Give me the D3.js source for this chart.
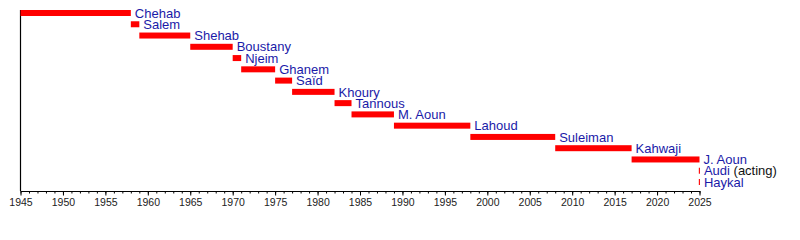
<!DOCTYPE html>
<html>
<head>
<meta charset="utf-8">
<script src="https://cdn.jsdelivr.net/npm/d3@7"></script>
<style>
  html, body { margin: 0; padding: 0; background: #fff; }
  svg { display: block; font-family: "Liberation Sans", Arial, Helvetica, sans-serif; }
</style>
</head>
<body>
<svg id="chart" width="800" height="240"></svg>
<script>
// Commanders (categories), tenure start and end years, and label suffixes
const names  = ["Chehab", "Salem", "Shehab", "Boustany", "Njeim", "Ghanem", "Saïd", "Khoury",
                "Tannous", "M. Aoun", "Lahoud", "Suleiman", "Kahwaji", "J. Aoun", "Audi", "Haykal"];
const starts = [1945, 1958, 1959, 1965, 1970, 1971, 1975, 1977, 1982, 1984, 1989, 1998, 2008, 2017, 2024.92, 2024.92];
const ends   = [1958, 1959, 1965, 1970, 1971, 1975, 1977, 1982, 1984, 1989, 1998, 2008, 2017, 2025, 2025.05, 2025.05];
const notes  = ["", "", "", "", "", "", "", "", "", "", "", "", "", "", " (acting)", ""];
const tickYears = d3.range(1945, 2026, 5);
const minorYears = d3.range(1945, 2026, 1);

const svg = d3.select("#chart");
const x = d3.scaleLinear().domain([1945, 2025]).range([20.5, 699.5]);
const y = d3.scalePoint().domain(names).range([13, 182]);
const axisY = 191;
const barH = 6;

// minor ticks
svg.append("g")
  .attr("transform", `translate(0,${axisY})`)
  .call(d3.axisBottom(x).tickValues(minorYears).tickSize(2.5).tickFormat(""))
  .call(g => g.select(".domain").remove())
  .call(g => g.selectAll("line").attr("stroke", "#000").attr("stroke-width", 1));

// major ticks + labels
svg.append("g")
  .attr("transform", `translate(0,${axisY})`)
  .call(d3.axisBottom(x).tickValues(tickYears).tickFormat(d3.format("d")).tickSize(4.5).tickSizeOuter(0))
  .call(g => g.select(".domain").attr("stroke", "#000").attr("stroke-width", 1.2))
  .call(g => g.selectAll("line").attr("stroke", "#000").attr("stroke-width", 1))
  .call(g => g.selectAll("text")
      .attr("font-size", "10.5px")
      .attr("fill", "#222")
      .attr("y", 8)
      .attr("font-family", "'Liberation Sans', Arial, sans-serif"));

// left vertical axis line
svg.append("line")
  .attr("x1", x(1945)).attr("x2", x(1945))
  .attr("y1", y(names[0]) - barH / 2).attr("y2", axisY)
  .attr("stroke", "#000").attr("stroke-width", 1.2);

const rows = names.map((n, i) => ({ name: n, s: starts[i], e: ends[i], note: notes[i] }));

// bars
svg.append("g").selectAll("rect")
  .data(rows).join("rect")
  .attr("x", d => x(d.s))
  .attr("y", d => y(d.name) - barH / 2)
  .attr("width", d => Math.max(1, x(d.e) - x(d.s)))
  .attr("height", barH)
  .attr("fill", "#ff0000");

// labels
const lbl = svg.append("g").selectAll("text")
  .data(rows).join("text")
  .attr("x", d => x(d.e) + 4)
  .attr("y", d => y(d.name))
  .attr("dy", "0.36em")
  .attr("font-size", "13px");
lbl.append("tspan").attr("fill", "#1a1aa8").text(d => d.name);
lbl.filter(d => d.note).append("tspan").attr("fill", "#111").text(d => d.note);
</script>
</body>
</html>
